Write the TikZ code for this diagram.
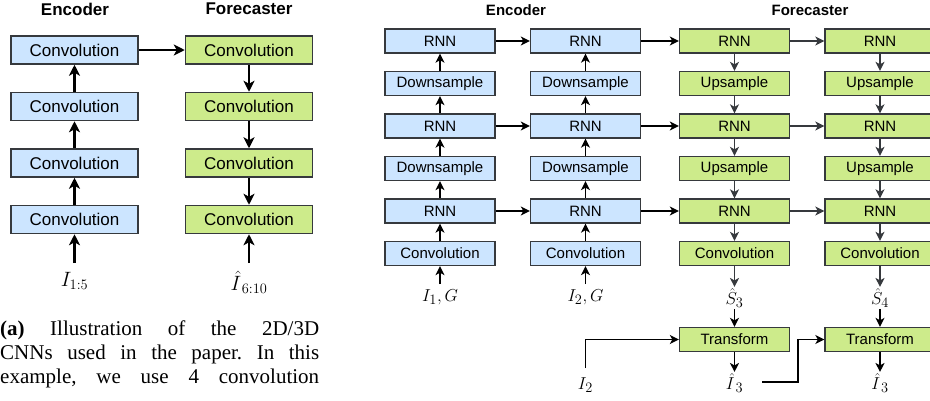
\documentclass[tikz,border=0pt]{standalone}
\usepackage{fontspec}
\setmainfont{Liberation Sans}
\newfontfamily\capfont{Liberation Serif}
\usetikzlibrary{arrows.meta}
\definecolor{bluef}{HTML}{CCE5FF}
\definecolor{greenf}{HTML}{CDEB8B}
\definecolor{strokec}{HTML}{36393D}
\tikzset{
  lbox/.style={draw=strokec, line width=1.5pt, minimum width=127pt, minimum height=28pt, inner sep=0pt, font=\fontsize{17}{20}\selectfont},
  lenc/.style={lbox, fill=bluef},
  lfore/.style={lbox, fill=greenf},
  rbox/.style={draw=strokec, line width=1.3pt, minimum width=110pt, minimum height=24pt, inner sep=0pt, font=\fontsize{15}{18}\selectfont},
  renc/.style={rbox, fill=bluef},
  rfore/.style={rbox, fill=greenf},
  ltitle/.style={font=\fontsize{17}{20}\selectfont\bfseries, inner sep=0pt},
  rtitle/.style={font=\fontsize{15}{18}\selectfont\bfseries, inner sep=0pt},
  llab/.style={font=\fontsize{22}{26}\selectfont, inner sep=1pt},
  rlab/.style={font=\fontsize{19}{22}\selectfont, inner sep=1pt},
  larr/.style={line width=2.2pt, black, -{Stealth[length=11pt, width=11pt, inset=3pt]}},
  rarr/.style={line width=1.6pt, black, -{Stealth[length=9pt, width=9pt, inset=2.5pt]}},
  garr/.style={line width=1.6pt, strokec, -{Stealth[length=9pt, width=9pt, inset=2.5pt]}},
  capline/.style={anchor=base west, inner sep=0pt, font=\capfont\frenchspacing\fontsize{21}{25}\selectfont},
}
\begin{document}
\begin{tikzpicture}[x=1pt, y=-1pt]
\useasboundingbox (0,0) rectangle (930,400);
\clip (0,0) rectangle (930,400);
% ---------- left panel ----------
\node[ltitle] (lt1) at (75,9) {Encoder};
\node[ltitle] (lt2) at (249,9) {Forecaster};
\node[lenc] (e1) at (74.5,50) {Convolution};
\node[lenc] (e2) at (74.5,106.5) {Convolution};
\node[lenc] (e3) at (74.5,163) {Convolution};
\node[lenc] (e4) at (74.5,219.5) {Convolution};
\node[lfore] (f1) at (249,50) {Convolution};
\node[lfore] (f2) at (249,106.5) {Convolution};
\node[lfore] (f3) at (249,163) {Convolution};
\node[lfore] (f4) at (249,219.5) {Convolution};
\coordinate (ein) at (74.5,263);
\coordinate (fin) at (249,263);
\node[llab] (elab) at (74.5,281) {$I_{1:5}$};
\node[llab] (flab) at (249,282) {$\hat{I}_{\,6:10}$};
\draw[larr] (ein) -- (e4.south);
\draw[larr] (e4.north) -- (e3.south);
\draw[larr] (e3.north) -- (e2.south);
\draw[larr] (e2.north) -- (e1.south);
\draw[larr] (e1.east) -- (f1.west);
\draw[larr] (f1.south) -- (f2.north);
\draw[larr] (f2.south) -- (f3.north);
\draw[larr] (f3.south) -- (f4.north);
\draw[larr] (fin) -- (f4.south);
% caption
\node[capline] (c1) at (0,335) {\makebox[319pt][s]{\textbf{(a)} Illustration of the 2D/3D}};
\node[capline] (c2) at (0,359) {\makebox[319pt][s]{CNNs used in the paper. In this}};
\node[capline] (c3) at (0,383.5) {\makebox[319pt][s]{example, we use 4 convolution}};
% ---------- right panel ----------
\node[rtitle] (rt1) at (516,10) {Encoder};
\node[rtitle] (rt2) at (810,10) {Forecaster};
% encoder columns
\foreach \c/\x in {a/440, b/585.5}{
  \node[renc] (\c1) at (\x,41) {RNN};
  \node[renc] (\c2) at (\x,83.5) {Downsample};
  \node[renc] (\c3) at (\x,126) {RNN};
  \node[renc] (\c4) at (\x,168.5) {Downsample};
  \node[renc] (\c5) at (\x,211) {RNN};
  \node[renc] (\c6) at (\x,253.5) {Convolution};
  \coordinate (\c in) at (\x,284);
  \draw[rarr] (\c in) -- (\c6.south);
  \draw[rarr] (\c6.north) -- (\c5.south);
  \draw[rarr] (\c5.north) -- (\c4.south);
  \draw[rarr] (\c4.north) -- (\c3.south);
  \draw[rarr] (\c3.north) -- (\c2.south);
  \draw[rarr] (\c2.north) -- (\c1.south);
}
\node[rlab] (alab) at (440,297) {$I_1, G$};
\node[rlab] (blab) at (585.5,297) {$I_2, G$};
% forecaster columns
\foreach \c/\x/\n in {p/734.5/3, q/880/4}{
  \node[rfore] (\c1) at (\x,41) {RNN};
  \node[rfore] (\c2) at (\x,83.5) {Upsample};
  \node[rfore] (\c3) at (\x,126) {RNN};
  \node[rfore] (\c4) at (\x,168.5) {Upsample};
  \node[rfore] (\c5) at (\x,211) {RNN};
  \node[rfore] (\c6) at (\x,253.5) {Convolution};
  \node[rlab] (\c s) at (\x,298) {$\hat{S}_{\n}$};
  \node[rfore] (\c7) at (\x,339.5) {Transform};
  \node[rlab] (\c i) at (\x,383) {$\hat{I}_{\,3}$};
  \draw[garr] (\c1.south) -- (\c2.north);
  \draw[garr] (\c2.south) -- (\c3.north);
  \draw[garr] (\c3.south) -- (\c4.north);
  \draw[garr] (\c4.south) -- (\c5.north);
  \draw[garr] (\c5.south) -- (\c6.north);
  \draw[garr] (\c6.south) -- (\c s.north);
  \draw[rarr] (\c s.south) -- (\c7.north);
  \draw[rarr] (\c7.south) -- (\c i.north);
}
% horizontal connections
\foreach \r in {1,3,5}{
  \draw[rarr] (a\r.east) -- (b\r.west);
  \draw[rarr] (b\r.east) -- (p\r.west);
  \draw[garr] (p\r.east) -- (q\r.west);
}
% transform inputs
\node[rlab] (i2) at (585.5,385) {$I_2$};
\coordinate (i2t) at (585.5,368);
\draw[rarr] (i2t) |- (p7.west);
\coordinate (pit) at (762,382);
\coordinate (pbend) at (798,382);
\draw[rarr] (pit) -- (pbend) |- (q7.west);
\end{tikzpicture}
\end{document}
